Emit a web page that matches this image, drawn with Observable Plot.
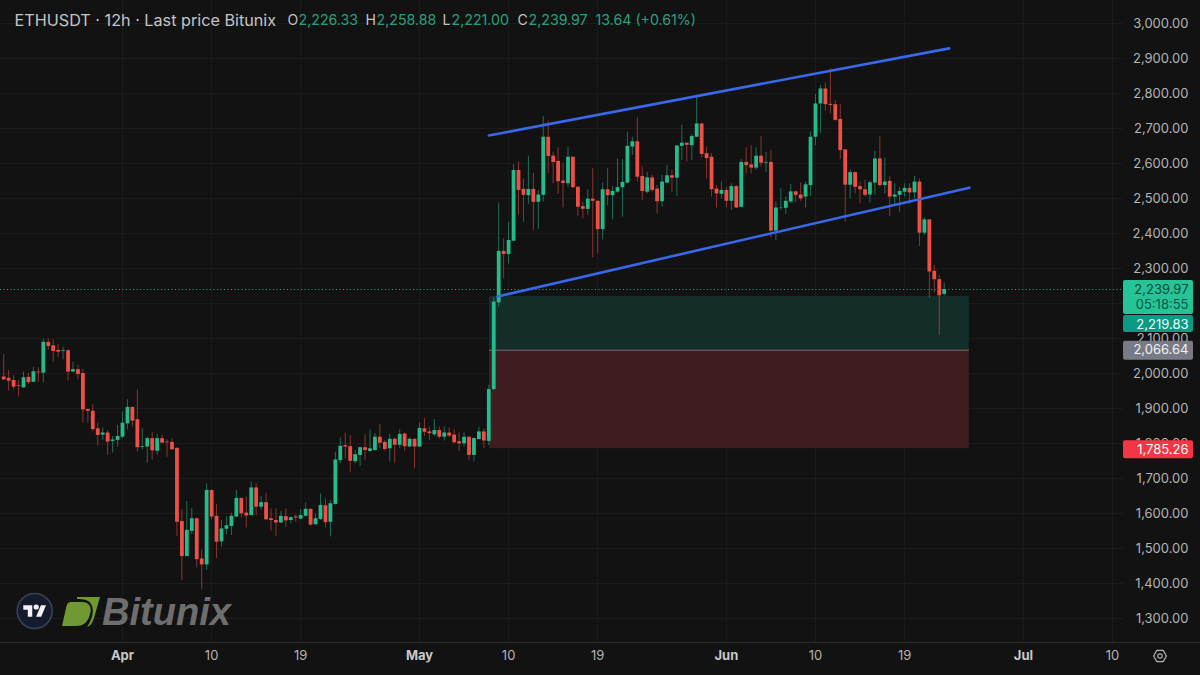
<!DOCTYPE html>
<html><head><meta charset="utf-8">
<script src="https://cdn.jsdelivr.net/npm/d3@7"></script>
<script src="https://cdn.jsdelivr.net/npm/@observablehq/plot@0.6"></script>
<style>html,body{margin:0;padding:0;background:#121212;overflow:hidden}svg{display:block}</style>
</head><body><div id="chart"></div>
<script>
const opens = [1990,1986,1980,1965,1959,1989,1975,2004,2001,2089,
2079,2066,2063,2065,2004,2011,2000,1897,1892,1842,
1824,1830,1806,1809,1818,1856,1903,1868,1789,1790,
1814,1778,1814,1804,1803,1786,1577,1477,1549,1585,
1470,1453,1666,1592,1519,1555,1563,1590,1643,1601,
1594,1673,1618,1631,1585,1580,1573,1591,1580,1590,
1584,1592,1612,1568,1583,1622,1575,1626,1751,1794,
1791,1748,1766,1788,1777,1780,1818,1803,1785,1812,
1795,1827,1790,1812,1790,1842,1833,1825,1837,1818,
1830,1824,1805,1799,1818,1766,1811,1833,1806,1954,
2202,2349,2340,2378,2580,2526,2508,2526,2489,2509,
2675,2621,2606,2550,2542,2618,2532,2477,2469,2498,
2492,2411,2525,2508,2518,2531,2544,2647,2662,2563,
2518,2559,2527,2491,2544,2565,2558,2649,2658,2651,
2675,2713,2628,2618,2527,2512,2523,2492,2534,2475,
2603,2596,2587,2621,2601,2603,2407,2472,2472,2490,
2519,2510,2504,2537,2675,2770,2813,2769,2768,2726,
2639,2538,2574,2534,2525,2510,2544,2613,2537,2549,
2504,2509,2518,2529,2516,2547,2401,2439,2292,2268,2226];
const highs = [2054,2009,1994,1980,2004,2001,2018,2016,2099,2099,
2096,2083,2075,2068,2032,2023,2011,1899,1911,1858,
1845,1837,1820,1852,1890,1925,1904,1953,1842,1818,
1831,1826,1823,1811,1813,1788,1611,1635,1615,1587,
1495,1685,1666,1626,1580,1590,1601,1666,1645,1647,
1690,1685,1649,1658,1613,1613,1606,1613,1590,1597,
1611,1630,1613,1599,1656,1642,1637,1775,1816,1830,
1823,1780,1790,1826,1839,1828,1854,1809,1826,1816,
1839,1830,1816,1813,1858,1871,1847,1868,1847,1847,
1845,1839,1830,1830,1818,1816,1847,1842,1966,2218,
2487,2385,2432,2597,2604,2556,2621,2572,2523,2734,
2721,2632,2645,2601,2647,2618,2534,2490,2525,2585,
2494,2544,2585,2534,2613,2611,2690,2675,2730,2590,
2575,2566,2537,2566,2594,2580,2651,2709,2658,2683,
2789,2713,2647,2628,2537,2547,2532,2542,2537,2611,
2645,2651,2645,2677,2632,2637,2490,2528,2504,2540,
2521,2544,2547,2690,2797,2823,2830,2871,2780,2769,
2639,2582,2575,2547,2552,2550,2635,2677,2616,2563,
2542,2532,2542,2542,2563,2556,2445,2439,2309,2280,2259];
const lows = [1980,1950,1953,1933,1959,1969,1974,1975,1973,2066,
2032,2045,2039,1978,2004,1982,1858,1858,1833,1793,
1809,1766,1773,1790,1814,1839,1847,1775,1782,1744,
1753,1766,1799,1761,1780,1535,1409,1476,1540,1445,
1382,1437,1582,1471,1504,1539,1537,1588,1588,1559,
1593,1594,1609,1580,1550,1534,1571,1561,1571,1575,
1582,1590,1563,1566,1580,1559,1533,1624,1742,1756,
1718,1742,1735,1752,1775,1777,1785,1778,1747,1742,
1785,1778,1788,1728,1788,1820,1809,1820,1813,1807,
1818,1799,1777,1790,1752,1747,1811,1785,1794,1951,
2190,2271,2313,2377,2452,2432,2483,2409,2412,2490,
2571,2542,2511,2473,2531,2528,2449,2442,2452,2331,
2342,2382,2480,2439,2515,2447,2542,2623,2547,2494,
2513,2518,2456,2475,2542,2518,2506,2609,2604,2609,
2675,2616,2556,2504,2473,2499,2473,2466,2471,2473,
2570,2570,2580,2590,2575,2388,2380,2466,2454,2485,
2488,2492,2473,2506,2651,2685,2750,2742,2721,2611,
2432,2499,2513,2485,2504,2487,2509,2532,2513,2449,
2480,2461,2504,2483,2499,2363,2394,2214,2230,2109,2221];
const closes = [1982,1978,1961,1963,1988,1974,2005,2002,2089,2077,
2063,2061,2065,2004,2011,1997,1896,1892,1840,1823,
1830,1804,1810,1820,1858,1903,1864,1788,1791,1814,
1779,1814,1801,1802,1782,1575,1477,1552,1585,1468,
1453,1666,1590,1518,1556,1565,1592,1643,1599,1593,
1673,1618,1631,1582,1580,1573,1592,1579,1588,1587,
1594,1612,1567,1585,1623,1574,1628,1753,1792,1790,
1749,1768,1788,1780,1785,1818,1801,1783,1812,1795,
1826,1791,1812,1790,1843,1832,1828,1837,1818,1830,
1821,1802,1799,1818,1766,1814,1833,1807,1954,2204,
2349,2340,2380,2580,2523,2509,2526,2489,2510,2675,
2620,2603,2548,2543,2618,2531,2475,2469,2498,2492,
2411,2525,2508,2520,2531,2546,2649,2662,2561,2520,
2559,2523,2491,2547,2565,2558,2650,2658,2652,2677,
2713,2626,2614,2525,2513,2523,2492,2534,2473,2603,
2594,2587,2621,2601,2603,2407,2473,2473,2492,2519,
2509,2499,2539,2675,2770,2813,2768,2766,2723,2637,
2538,2574,2532,2525,2509,2545,2613,2537,2547,2504,
2510,2520,2529,2516,2547,2401,2439,2290,2268,2222,2240];

const firstCandle = Date.UTC(2025, 2, 20);
const halfDay = 12 * 3600 * 1000;
const gridPrices = [3000,2900,2800,2700,2600,2500,2400,2300,2200,2100,2000,1900,1800,1700,1600,1500,1400,1300];
const labelPrices = gridPrices.filter(p=>p!==2200);
const timeTicks = [
  ["2025-04-01","Apr",true],["2025-04-10","10",false],["2025-04-19","19",false],
  ["2025-05-01","May",true],["2025-05-10","10",false],["2025-05-19","19",false],
  ["2025-06-01","Jun",true],["2025-06-10","10",false],["2025-06-19","19",false],
  ["2025-07-01","Jul",true],["2025-07-10","10",false]
].map(([d,t,b])=>({date:new Date(d+"T00:00:00Z"),label:t,bold:b}));
const upperChannel = [["2025-05-08T00:00Z",2680],["2025-06-23T12:00Z",2929]];
const lowerChannel = [["2025-05-08T21:00Z",2220],["2025-06-25T13:00Z",2531]];
const boxStart = new Date("2025-05-08T01:40Z"), boxEnd = new Date("2025-06-25T13:00Z");
const entryPrice = 2219.83, midPrice = 2066.64, stopPrice = 1785.26, lastPrice = 2239.97;

const candles = opens.map((o,i)=>({date:new Date(firstCandle+i*halfDay),o,h:highs[i],l:lows[i],c:closes[i],dir:closes[i]>=o?"up":"down"}));
const GREEN="#25bb8c", RED="#ee5046", GRID="#1c1c1c", AX="#b4b4b4", NUM="#26a17f";
const font='Inter, "Noto Sans", sans-serif';
const pts=a=>a.map(([d,p])=>({date:new Date(d),p}));

const headerPieces=[
 ["ETHUSDT · 12h · Last price Bitunix",14,"#c4c4c4",16.2],
 ["O",287,"#c4c4c4",14],["2,226.33",298,NUM,14.2],
 ["H",365,"#c4c4c4",14],["2,258.88",376,NUM,14.2],
 ["L",442,"#c4c4c4",14],["2,221.00",451,NUM,14.2],
 ["C",517,"#c4c4c4",14],["2,239.97",528,NUM,14.2],
 ["13.64 (+0.61%)",595,NUM,14.2]
];

function decor(index,scales,values,dim){
  const g=d3.create("svg:g");
  g.append("circle").attr("cx",34.7).attr("cy",611).attr("r",17.5).attr("fill","#131b2c").attr("stroke","#3a4152").attr("stroke-width",1.6);
  g.append("path").attr("transform","translate(23.3,602.6) scale(.64)").attr("fill","#f2f2f2")
   .attr("d","M14 22H7V11H0V4h14v18zM28 22h-8l7.5-18h8L28 22z");
  g.append("circle").attr("cx",36.2).attr("cy",607).attr("r",2.6).attr("fill","#f2f2f2");
  g.append("path").attr("fill","#6f9a33").attr("d","M71 602H82C90 602 92 608 90 614C88 622 84 626 76 626H62L66 608C67 604 68 602 71 602Z");
  g.append("path").attr("fill","#6f9a33").attr("d","M77 597H100L94 618C92 624 90 626 87 627C92 620 95 610 91 604C89 600 84 599 77 599Z");
  g.append("text").attr("x",102).attr("y",625).attr("text-anchor","start").attr("fill","#6e6e6e").attr("font-family",'"Liberation Sans",sans-serif')
   .attr("font-weight",700).attr("font-style","italic").attr("font-size",38).attr("textLength",129).attr("lengthAdjust","spacingAndGlyphs").attr("stroke","none").text("Bitunix");
  const gear=g.append("g").attr("transform","translate(1160,656)").attr("fill","none").attr("stroke","#b4b4b4");
  gear.append("circle").attr("r",2.2).attr("stroke-width",1.2);
  gear.append("path").attr("stroke-width",1.2).attr("d","M-3.2-5.6H3.2L6.4 0 3.2 5.6H-3.2L-6.4 0Z").attr("stroke-linejoin","round");
  return g.node();
}

const flag=(price,top,bottom,fill)=>Plot.rect([price],{y1:d=>d,y2:d=>d,insetLeft:1123,insetRight:7,insetTop:top,insetBottom:-bottom,fill,rx:2});
const flagText=(price,text,dy,fill)=>Plot.text([price],{y:d=>d,text:()=>text,frameAnchor:"right",dx:-12,dy,fill,fontSize:13,textAnchor:"end"});

const plot=Plot.plot({
  width:1200,height:675,marginLeft:0,marginRight:0,marginTop:0,marginBottom:33,
  style:{background:"#121212",fontFamily:font},
  x:{type:"time",domain:[new Date(Date.UTC(2025,3,1)-122/9.9*86400000),new Date(Date.UTC(2025,3,1)+(1200-122)/9.9*86400000)],axis:null},
  y:{domain:[1231.43,3065.71],axis:null},
  color:{domain:["up","down"],range:[GREEN,RED]},
  marks:[
    Plot.ruleY(gridPrices,{stroke:GRID,strokeWidth:1,insetRight:77}),
    Plot.ruleX(timeTicks,{x:"date",stroke:GRID,strokeWidth:1}),
    Plot.ruleY([1231.43],{stroke:"#2c2c2c",strokeWidth:1}),
    Plot.rect([{a:entryPrice,b:midPrice}],{x1:()=>boxStart,x2:()=>boxEnd,y1:"a",y2:"b",fill:"#132e29"}),
    Plot.rect([{a:midPrice,b:stopPrice}],{x1:()=>boxStart,x2:()=>boxEnd,y1:"a",y2:"b",fill:"#3e1c20"}),
    Plot.ruleY([midPrice],{x1:()=>boxStart,x2:()=>boxEnd,stroke:"#6e7276",strokeWidth:1}),
    Plot.ruleY([lastPrice],{stroke:"#2aa88a",strokeWidth:1,strokeDasharray:"1,2.5",insetRight:77}),
    Plot.ruleX(candles,{x:"date",y1:"l",y2:"h",stroke:"dir",strokeWidth:1,strokeOpacity:.55}),
    Plot.ruleX(candles,{x:"date",y1:"o",y2:"c",stroke:"dir",strokeWidth:3.8}),
    Plot.line(pts(upperChannel),{x:"date",y:"p",stroke:"#3868ec",strokeWidth:2.6}),
    Plot.line(pts(lowerChannel),{x:"date",y:"p",stroke:"#3868ec",strokeWidth:2.6}),
    Plot.text(labelPrices,{y:d=>d,text:d=>d3.format(",.2f")(d),frameAnchor:"right",dx:-12,fill:AX,fontSize:13,textAnchor:"end"}),
    Plot.text(timeTicks.filter(d=>!d.bold),{x:"date",text:"label",frameAnchor:"bottom",dy:13,lineAnchor:"middle",fill:AX,fontSize:13}),
    Plot.text(timeTicks.filter(d=>d.bold),{x:"date",text:"label",frameAnchor:"bottom",dy:13,lineAnchor:"middle",fill:"#c8c8c8",fontSize:13,fontWeight:700}),
    flag(lastPrice,-9,25,"#26c396"),
    flag(entryPrice,19,36,"#0d9a84"),
    flag(midPrice,-9,10,"#787b86"),
    flag(stopPrice,-8,10,"#f23645"),
    flagText(lastPrice,"2,239.97",0,"#0a4a3a"),
    flagText(lastPrice,"05:18:55",15,"#0a5a47"),
    flagText(entryPrice,"2,219.83",28,"#eafff8"),
    flagText(midPrice,"2,066.64",0,"#f2f2f2"),
    flagText(stopPrice,"1,785.26",1,"#ffffff"),
    ...headerPieces.map(([t,dx,fill,fs])=>Plot.text([t],{text:d=>d,frameAnchor:"top-left",dx,dy:20,lineAnchor:"middle",textAnchor:"start",fill,fontSize:fs})),
    decor
  ]
});
document.getElementById("chart").appendChild(plot);
</script></body></html>
